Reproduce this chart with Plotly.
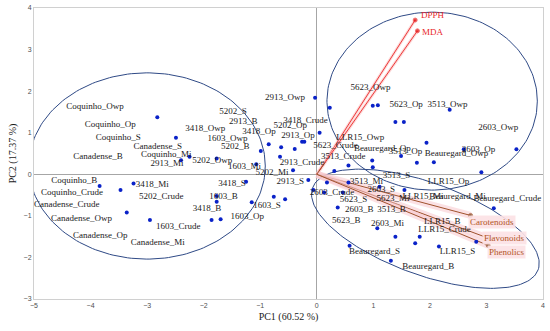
import numpy as np
import plotly.graph_objects as go

# Sample scores (PC1, PC2)
pc1 = [-2.82, -2.49, -2.40, -2.25, -3.84, -3.47, -3.24, -3.36, -2.95, -1.77,
       -0.99, -0.85, -0.63, -0.39, -0.26, -0.22, -0.03, 0.05, 0.23, -0.65,
       -1.07, -0.42, -0.15, -1.25, -0.06, -1.77, -1.77, -0.76, -0.56, -1.15,
       -1.86, -1.70,
       0.99, 1.08, 1.39, 1.54, 2.35, 3.53, 1.94, 2.60, 0.98, 1.49,
       1.77, 2.07, 0.56, 0.31, 0.99, 2.91, 0.18, 0.56, 0.13, 0.46,
       1.11, 1.55, 3.13, 0.37, 1.07, 1.39, 1.82, 1.74, 2.16, 2.82,
       0.58, 1.31]
pc2 = [1.37, 0.88, 0.34, 0.42, -0.28, -0.38, -0.22, -0.92, -1.10, 0.38,
       0.56, 0.72, 0.65, 0.61, 0.78, 0.78, 1.84, 1.00, 1.60, 0.42,
       0.24, 0.10, -0.14, -0.18, -0.38, -0.52, -0.66, -0.54, -0.60, -0.67,
       -1.10, -1.08,
       1.65, 1.66, 1.26, 1.26, 1.55, 0.60, 0.76, 0.60, 0.33, 0.44,
       0.28, 0.29, 0.21, 0.08, 0.17, 0.05, -0.20, -0.20, -0.44, -0.44,
       -0.30, -0.38, -0.82, -0.80, -1.30, -1.50, -1.50, -1.66, -1.74, -1.62,
       -1.72, -2.08]

# Sample labels and where their text sits
labels = ["Coquinho_Owp", "Coquinho_Op", "Coquinho_S", "Canadense_S", "Coquinho_Mi", "2913_Mi",
          "Canadense_B", "Coquinho_B", "Coquinho_Crude", "Canadense_Crude", "Canadense_Owp",
          "Canadense_Op", "Canadense_Mi", "3418_Mi", "5202_Crude", "1603_Crude",
          "2913_Owp", "5202_S", "2913_B", "3418_Crude", "5202_Op", "3418_Owp", "3418_Op",
          "2913_Op", "1603_Owp", "5202_B", "5202_Owp", "1603_Mi", "5202_Mi", "2913_Crude",
          "2913_S", "3418_S", "1603_B", "3418_B", "1603_S", "1603_Op",
          "5623_Owp", "5623_Op", "3513_Owp", "2603_Owp", "LLR15_Owp", "5623_Crude",
          "Beauregard_Op", "3513_Op", "Beauregard_Owp", "2603_Op", "3513_Crude", "3513_S",
          "LLR15_Op", "3513_Mi", "2603_S", "2603_Crude", "5623_S", "5623_Mi", "LLR15_Mi",
          "Beauregard_Mi", "Beauregard_Crude", "2603_B", "3513_B", "5623_B", "2603_Mi",
          "LLR15_B", "LLR15_Crude", "Beauregard_S", "LLR15_S", "Beauregard_B"]
label_x = [-3.92, -3.65, -3.51, -2.81, -2.66, -2.65, -3.87, -4.29, -4.33, -4.42, -4.16,
           -3.83, -2.81, -2.91, -2.75, -2.45,
           -0.56, -1.48, -1.30, -0.20, -0.47, -1.97, -1.02, -0.33, -1.58, -1.44, -1.85,
           -1.28, -0.79, -0.26, -0.47, -1.50, -1.65, -1.94, -0.88, -1.23,
           0.95, 1.58, 2.31, 3.21, 0.77, 0.33, 1.16, 1.57, 2.47, 2.86, 0.47, 1.41,
           2.33, 0.88, 1.14, 0.27, 0.65, 1.35, 1.88, 2.49, 3.37, 0.75, 1.32, 0.52, 1.25,
           2.22, 2.26, 1.02, 2.49, 1.97]
label_y = [1.62, 1.18, 0.87, 0.66, 0.46, 0.25, 0.42, -0.16, -0.45, -0.74, -1.08,
           -1.49, -1.65, -0.26, -0.55, -1.26,
           1.83, 1.50, 1.26, 1.28, 1.16, 1.09, 1.02, 0.92, 0.85, 0.66, 0.32,
           0.18, 0.03, 0.27, -0.19, -0.23, -0.55, -0.84, -0.76, -1.03,
           2.07, 1.67, 1.67, 1.11, 0.87, 0.68, 0.61, 0.54, 0.49, 0.58, 0.42, -0.04,
           -0.18, -0.19, -0.38, -0.45, -0.62, -0.59, -0.55, -0.55, -0.59, -0.86, -0.86,
           -1.12, -1.19, -1.15, -1.34, -1.87, -1.87, -2.23]

# Variable loadings
var_names = ["DPPH", "MDA", "Carotenoids", "Flavonoids", "Phenolics"]
var_x = [1.74, 1.78, 2.72, 3.06, 3.03]
var_y = [3.71, 3.45, -0.99, -1.55, -1.71]
var_label_x = [2.06, 2.06, 3.09, 3.32, 3.35]
var_label_y = [3.83, 3.42, -1.15, -1.53, -1.87]
# short unlabelled loading near the origin
short_x = [0.15]
short_y = [0.29]

# Group ellipses: centre x, centre y, half-width, half-height (data units)
ell_left = (-3.0, 0.2, 2.09, 2.24)
ell_upper = (2.04, 1.76, 1.86, 2.14)
ell_lower = (1.92, -1.31)

XR = [-5, 4]
YR = [-3, 4]
W, H = 550, 331
ML, MR, MT, MB = 34, 7, 8, 32
pxu_x = (W - ML - MR) / (XR[1] - XR[0])
pxu_y = (H - MT - MB) / (YR[1] - YR[0])

fig = go.Figure()

ell_col = "#2f4a86"
t = np.linspace(0, 2 * np.pi, 200)
for cx, cy, rx, ry in (ell_left, ell_upper):
    fig.add_trace(go.Scatter(x=cx + rx * np.cos(t), y=cy + ry * np.sin(t), mode="lines",
                             line=dict(color=ell_col, width=1), hoverinfo="skip", showlegend=False))
# tilted ellipse (defined in screen pixels)
a, b, th = 120, 46, np.deg2rad(20)
dx = a * np.cos(t) * np.cos(th) - b * np.sin(t) * np.sin(th)
dy = a * np.cos(t) * np.sin(th) + b * np.sin(t) * np.cos(th)
fig.add_trace(go.Scatter(x=ell_lower[0] + dx / pxu_x, y=ell_lower[1] - dy / pxu_y, mode="lines",
                         line=dict(color=ell_col, width=1), hoverinfo="skip", showlegend=False))

# loading vectors
for i, n in enumerate(var_names):
    red = i < 2
    if not red:
        fig.add_trace(go.Scatter(x=[0, var_x[i]], y=[0, var_y[i]], mode="lines",
                                 line=dict(color="rgba(248,200,205,0.55)", width=7),
                                 hoverinfo="skip", showlegend=False))
    else:
        fig.add_trace(go.Scatter(x=[0, var_x[i]], y=[0, var_y[i]], mode="lines",
                                 line=dict(color="rgba(250,190,190,0.6)", width=3),
                                 hoverinfo="skip", showlegend=False))
    fig.add_trace(go.Scatter(x=[0, var_x[i]], y=[0, var_y[i]], mode="lines+markers",
                             line=dict(color="#ee3b3b" if red else "#a0522d", width=1),
                             marker=dict(size=[0, 4], color="#e00000" if red else "#7a3b10"),
                             hoverinfo="skip", showlegend=False))
for sx, sy in zip(short_x, short_y):
    fig.add_trace(go.Scatter(x=[0, sx], y=[0, sy], mode="lines",
                             line=dict(color="#a0522d", width=1),
                             hoverinfo="skip", showlegend=False))

# points
fig.add_trace(go.Scatter(x=pc1, y=pc2, mode="markers",
                         marker=dict(color="#0a22c8", size=4), showlegend=False))

# sample labels
fig.add_trace(go.Scatter(x=label_x, y=label_y, mode="text", text=labels,
                         textposition="middle center",
                         textfont=dict(family="Liberation Serif", size=9, color="#1a1a1a"),
                         hoverinfo="skip", showlegend=False))

# variable labels
for i, n in enumerate(var_names):
    red = i < 2
    fig.add_annotation(x=var_label_x[i], y=var_label_y[i], text=n, showarrow=False,
                       font=dict(family="Liberation Serif", size=9,
                                 color="#e8262b" if red else "#b3541e"),
                       bgcolor=None if red else "rgba(252,225,228,0.9)")

axis_common = dict(showgrid=False, zeroline=True, zerolinecolor="#a6a6a6", zerolinewidth=1,
                   showline=True, mirror=True, linecolor="#d0d0d0", linewidth=1,
                   ticks="", tickfont=dict(family="Liberation Sans", size=7, color="#505050"),
                   dtick=1, automargin=False)
fig.update_layout(
    width=W, height=H,
    margin=dict(l=ML, r=MR, t=MT, b=MB),
    plot_bgcolor="white", paper_bgcolor="white",
    xaxis=dict(range=XR, title=dict(text="PC1 (60.52 %)", standoff=4,
               font=dict(family="Liberation Serif", size=10, color="#1a1a1a")), **axis_common),
    yaxis=dict(range=YR, title=dict(text="PC2 (17.37 %)", standoff=5,
               font=dict(family="Liberation Serif", size=10, color="#1a1a1a")), **axis_common),
)

fig.write_html("out.html", config={"displayModeBar": False},
               post_script="document.body.style.margin='0';document.body.style.overflow='hidden';")
